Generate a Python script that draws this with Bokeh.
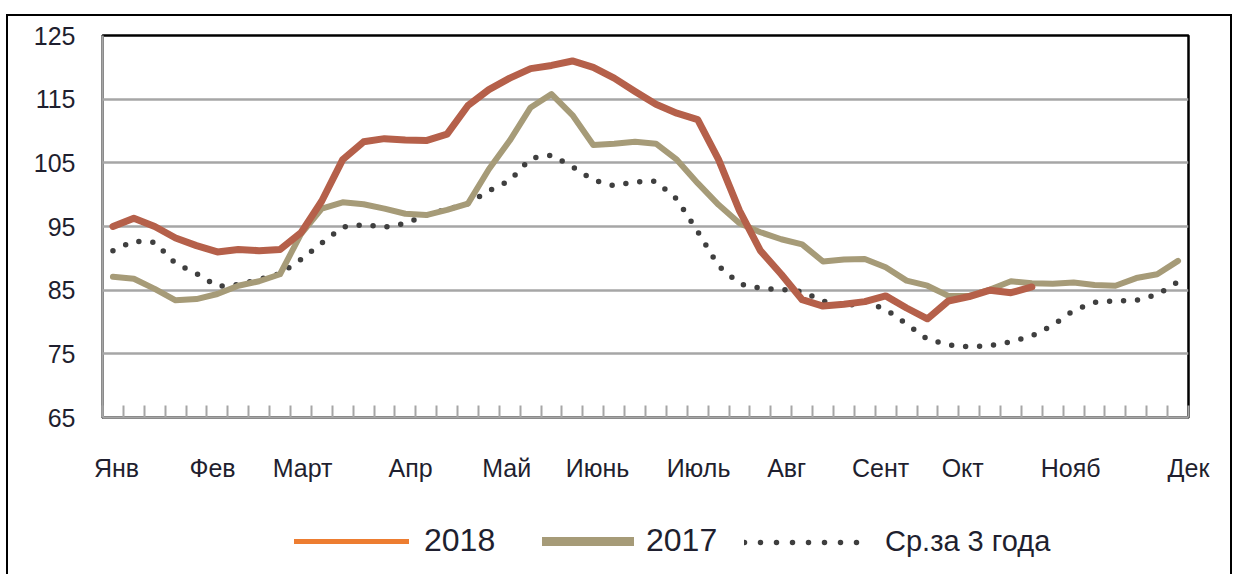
from bokeh.plotting import figure
from bokeh.layouts import column
from bokeh.models import FixedTicker, Legend, LegendItem, Range1d
from bokeh.embed import file_html
from bokeh.resources import INLINE

# ---- data (weekly index values) ----
y2018 = [95.0, 96.3, 95.0, 93.2, 92.0, 91.0, 91.4, 91.2, 91.4, 94.0,
         99.0, 105.5, 108.3, 108.8, 108.6, 108.5, 109.5, 114.0, 116.5, 118.3,
         119.8, 120.3, 121.0, 120.0, 118.3, 116.2, 114.2, 112.8, 111.8, 105.5,
         97.5, 91.2, 87.5, 83.5, 82.5, 82.8, 83.2, 84.1, 82.2, 80.5,
         83.3, 84.0, 85.0, 84.6, 85.5]
y2017 = [87.1, 86.8, 85.2, 83.4, 83.6, 84.4, 85.7, 86.4, 87.5, 93.8,
         97.8, 98.8, 98.5, 97.8, 97.0, 96.8, 97.6, 98.6, 104.0, 108.5,
         113.7, 115.8, 112.5, 107.8, 108.0, 108.3, 108.0, 105.5, 101.8, 98.4,
         95.5, 94.1, 93.0, 92.2, 89.5, 89.8, 89.9, 88.6, 86.5, 85.7,
         84.1, 84.1, 85.1, 86.4, 86.1, 86.0, 86.2, 85.8, 85.7, 86.9,
         87.5, 89.6]
avg3 = [91.2, 92.7, 92.5, 89.2, 87.6, 85.6, 85.9, 86.7, 87.6, 89.8,
        92.4, 94.9, 95.3, 94.9, 95.5, 96.8, 97.7, 98.6, 100.6, 102.2,
        105.7, 106.2, 104.4, 102.3, 101.4, 102.0, 102.1, 99.3, 94.2, 88.8,
        86.0, 85.3, 85.1, 84.8, 83.3, 82.4, 83.2, 82.0, 79.7, 77.3,
        76.4, 76.1, 76.3, 76.9, 77.8, 79.5, 81.8, 83.1, 83.3, 83.4,
        84.3, 86.3]

month_labels = ["Янв", "Фев", "Март", "Апр", "Май", "Июнь", "Июль",
                "Авг", "Сент", "Окт", "Нояб", "Дек"]
month_pos = [0.67, 5.27, 9.58, 14.75, 19.35, 23.7, 28.54, 32.76,
             37.26, 41.19, 46.36, 52.0]
y_ticks = [65, 75, 85, 95, 105, 115, 125]
n_weeks = 52

x18 = [i + 0.5 for i in range(len(y2018))]
x17 = [i + 0.5 for i in range(len(y2017))]
xav = [i + 0.5 for i in range(len(avg3))]

FONT = "Liberation Sans"
RED = "#B5604A"
KHAKI = "#A69B78"
ORANGE = "#ED7D31"
DOTS = "#3F3F3F"
GRID = "#A6A6A6"
TEXT = "#1F1F2F"
W = 1222

p = figure(width=W, height=490, output_backend="svg", toolbar_location=None,
           x_range=Range1d(0, n_weeks), y_range=Range1d(65, 125),
           min_border_left=94, min_border_right=42, min_border_top=19,
           min_border_bottom=89)
p.background_fill_color = "white"
p.border_fill_color = "white"
p.outline_line_color = "black"
p.outline_line_width = 2.5

p.xgrid.grid_line_color = None
p.ygrid.grid_line_color = GRID
p.ygrid.grid_line_width = 2.5
p.ygrid.ticker = FixedTicker(ticks=y_ticks)

# y axis
p.yaxis.ticker = FixedTicker(ticks=y_ticks)
p.yaxis.major_tick_line_color = None
p.yaxis.minor_tick_line_color = None
p.yaxis.major_tick_out = 0
p.yaxis.major_label_standoff = 27
p.yaxis.axis_line_color = GRID
p.yaxis.axis_line_width = 2.5
p.yaxis.major_label_text_font = FONT
p.yaxis.major_label_text_font_size = "25px"
p.yaxis.major_label_text_color = TEXT

# x axis
p.xaxis.ticker = FixedTicker(ticks=month_pos, minor_ticks=list(range(n_weeks + 1)))
p.xaxis.major_label_overrides = {pos: lab for pos, lab in zip(month_pos, month_labels)}
p.xaxis.major_tick_line_color = None
p.xaxis.major_tick_out = 0
p.xaxis.major_tick_in = 0
p.xaxis.minor_tick_in = 12
p.xaxis.minor_tick_out = 0
p.xaxis.minor_tick_line_color = GRID
p.xaxis.minor_tick_line_width = 2
p.xaxis.axis_line_color = GRID
p.xaxis.axis_line_width = 2.5
p.xaxis.major_label_standoff = 36
p.xaxis.major_label_text_font = FONT
p.xaxis.major_label_text_font_size = "25px"
p.xaxis.major_label_text_color = TEXT

# series
p.line(xav, avg3, line_color=DOTS, line_width=5.5, line_dash="0 14", line_cap="round")
p.line(x17, y2017, line_color=KHAKI, line_width=6, line_join="round", line_cap="round")
p.line(x18, y2018, line_color=RED, line_width=7, line_join="round", line_cap="round")

# ---- legend strip below the chart ----
# (the series are re-drawn here outside the visible range, only to
#  provide styled legend swatches like in the original legend)
lg = figure(width=W, height=68, output_backend="svg", toolbar_location=None,
            x_range=Range1d(0, 1), y_range=Range1d(0, 1),
            x_axis_type=None, y_axis_type=None, min_border=0)
lg.outline_line_color = None
lg.grid.grid_line_color = None
lg.background_fill_color = "white"
lg.border_fill_color = "white"

sw18 = lg.line(x18, y2018, line_color=ORANGE, line_width=5, line_cap="round")
sw17 = lg.line(x17, y2017, line_color=KHAKI, line_width=9, line_cap="round")
swav = lg.line(xav, avg3, line_color=DOTS, line_width=5.5, line_dash="0 16",
               line_cap="round")


def add_legend(label, rend, loc, gw, standoff, fsize):
    leg = Legend(items=[LegendItem(label=label, renderers=[rend])],
                 location=loc, orientation="horizontal",
                 glyph_width=gw, glyph_height=30, label_height=30,
                 label_standoff=standoff, padding=0, margin=0, spacing=0,
                 border_line_color=None, background_fill_alpha=0,
                 label_text_font=FONT, label_text_font_size=fsize,
                 label_text_color=TEXT)
    lg.add_layout(leg, "center")


add_legend("2018", sw18, (192, 15), 115, 15, "32px")
add_legend("2017", sw17, (440, 15), 92, 12, "32px")
add_legend("Ср.за 3 года", swav, (642, 16), 120, 21, "29px")

layout = column(p, lg, spacing=0)
layout.styles = {"margin-left": "6px", "margin-top": "14px",
                 "border-left": "2px solid black", "border-top": "2px solid black",
                 "border-right": "2px solid black"}

open("out.html", "w").write(file_html(layout, INLINE))
